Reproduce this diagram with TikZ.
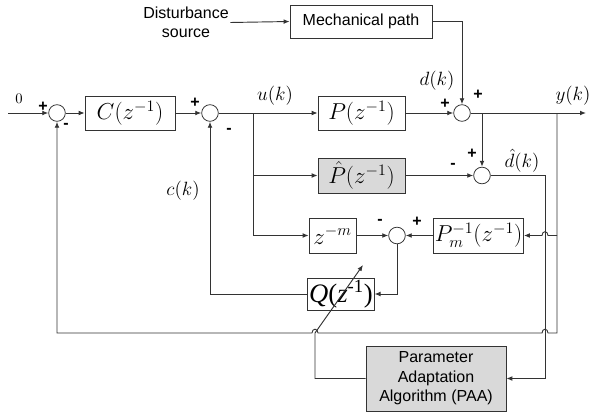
\documentclass[tikz,border=0pt]{standalone}
\usepackage{amssymb,amsmath}
\usepackage{fontspec}
\setsansfont{Liberation Sans}
\newfontfamily\timesfont{Liberation Serif}
\usepackage{tikz}
\usetikzlibrary{arrows.meta,shapes}
\tikzstyle{block}=[draw=black!80,line width=0.6pt,inner sep=1pt,font=\fontsize{17}{20}\selectfont]
\tikzstyle{sumnode}=[circle,draw=black!80,line width=0.6pt,minimum size=12.5pt,inner sep=0pt]
\tikzstyle{sig}=[draw=black!80,line width=0.7pt]
\tikzstyle{arr}=[sig,-{Latex[length=4.5pt,width=3.6pt]}]
\tikzstyle{sgn}=[font=\sffamily\bfseries\fontsize{12}{12}\selectfont,inner sep=0pt]
\tikzstyle{lbl}=[font=\fontsize{14}{14}\selectfont,inner sep=0pt]
\tikzstyle{txt}=[font=\sffamily\fontsize{12}{14.6}\selectfont,align=center,inner sep=1pt]

\begin{document}
\begin{tikzpicture}[x=0.75pt,y=-0.75pt]
        \useasboundingbox (0,0) rectangle (596,414);
        % blocks
        \node[txt] (dist) at (186,22.5) {Disturbance\\source};
        \node[block,txt,minimum width=106.5pt,minimum height=24.75pt] (mech) at (361,21.5) {Mechanical path};
        \node[block,minimum width=67.5pt,minimum height=25.5pt] (C) at (130,113) {$C(z^{-1})$};
        \node[block,minimum width=65.25pt,minimum height=25.5pt] (P) at (361.5,113) {$P(z^{-1})$};
        \node[block,fill=black!15,minimum width=65.25pt,minimum height=26.25pt] (Phat) at (361.5,175.5) {$\hat{P}(z^{-1})$};
        \node[block,minimum width=35.25pt,minimum height=26.25pt] (zm) at (332.5,235.5) {$z^{-m}$};
        \node[block,minimum width=63.75pt,minimum height=26.25pt] (Pm) at (478.5,235.5) {$P_m^{-1}(z^{-1})$};
        \node[block,minimum width=49.5pt,minimum height=24pt,font=\timesfont\fontsize{20}{22}\selectfont] (Q) at (341,294) {\textit{Q}(\textit{z}\textsuperscript{-1})};
        \node[block,txt,fill=black!15,minimum width=105pt,minimum height=48.75pt] (PAA) at (436,378.5) {Parameter\\Adaptation\\Algorithm (PAA)};
        % summing points
        \node[sumnode] (s1) at (57,113) {};
        \node[sumnode] (s2) at (210,113) {};
        \node[sumnode] (s3) at (462,113) {};
        \node[sumnode] (s4) at (482,175.5) {};
        \node[sumnode] (s5) at (397,235.5) {};
        % branch points
        \coordinate (in) at (8,113);
        \coordinate (out) at (586,113);
        \coordinate (uj) at (253,113);
        \coordinate (yr) at (557,113);
        \coordinate (fb) at (557,333);
        \coordinate (dh) at (545,378.5);
        \coordinate (qa) at (315,333);
        \coordinate (qb) at (363,265);
        % signals
        \draw[arr] (in) -- (s1.west);
        \draw[arr] (s1.east) -- (C.west);
        \draw[arr] (C.east) -- (s2.west);
        \draw[arr] (s2.east) -- (P.west);
        \draw[arr] (uj) |- (Phat.west);
        \draw[arr] (uj) |- (zm.west);
        \draw[arr] (P.east) -- (s3.west);
        \draw[arr] (s3.east) -- (out);
        \draw[arr] (dist.east) -- (mech.west);
        \draw[arr] (mech.east) -| (s3.north);
        \draw[arr] (s4 |- s3.east) -- (s4.north);
        \draw[arr] (Phat.east) -- (s4.west);
        \draw[arr] (s4.east) -| (dh) -- (PAA.east);
        \draw[arr] (yr |- Pm.east) -- (548,235.5) .. controls (548,230.5) and (542,230.5) .. (542,235.5) -- (Pm.east);
        \draw[arr] (Pm.west) -- (s5.east);
        \draw[arr] (zm.east) -- (s5.west);
        \draw[arr] (s5.south) |- (Q.east);
        \draw[arr] (Q.west) -| (s2.south);
        \draw[arr] (yr) -- (fb) -- (548,333) .. controls (548,328) and (542,328) .. (542,333)
                -- (318,333) .. controls (318,328) and (312,328) .. (312,333) -- (s1 |- fb) -- (s1.south);
        \draw[arr] (PAA.west) -| (qa) -- (qb);
        % labels
        \node[font=\fontsize{11}{11}\selectfont,inner sep=0pt] (zero) at (19,99) {$0$};
        \node[lbl] (ulab) at (275,96) {$u(k)$};
        \node[lbl] (ylab) at (573,96) {$y(k)$};
        \node[lbl] (dlab) at (437,81) {$d(k)$};
        \node[lbl] (dhlab) at (522,161) {$\hat{d}(k)$};
        \node[lbl] (clab) at (183,191) {$c(k)$};
        % signs
        \node[sgn] (p1) at (43,107) {+};
        \node[sgn] (m1) at (66,126) {-};
        \node[sgn] (p2) at (195,103) {+};
        \node[sgn] (m2) at (229,131) {-};
        \node[sgn] (p3) at (445,104) {+};
        \node[sgn] (p3b) at (478,95) {+};
        \node[sgn] (p4) at (472,154) {+};
        \node[sgn] (m4) at (453,166) {-};
        \node[sgn] (m5) at (380,222) {-};
        \node[sgn] (p5) at (417,222) {+};
      \end{tikzpicture}
\end{document}
